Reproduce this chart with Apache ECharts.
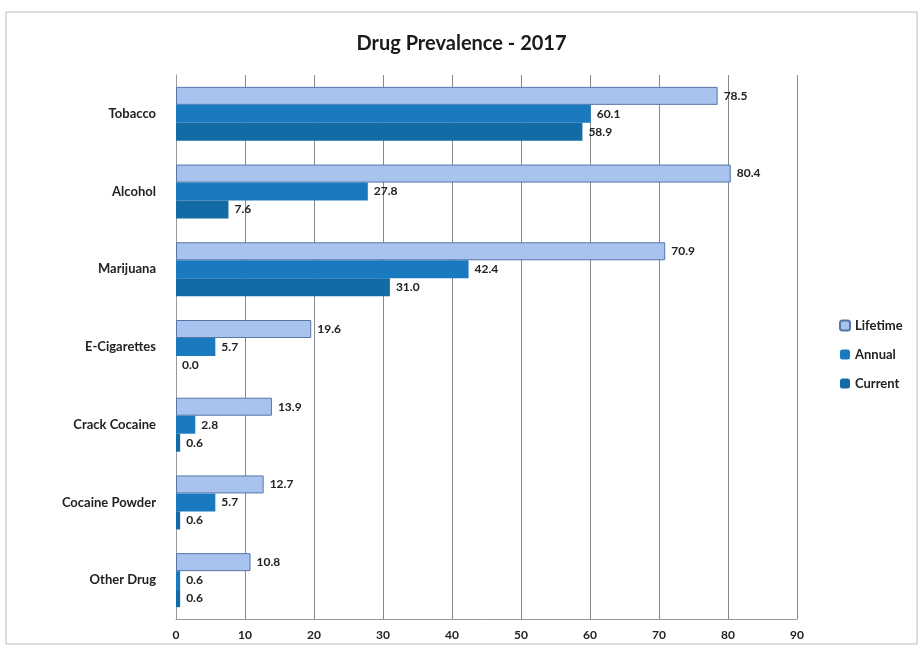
<!DOCTYPE html>
<html>
<head>
<meta charset="utf-8">
<script src="https://cdn.jsdelivr.net/npm/echarts@6/dist/echarts.min.js"></script>
<style>html,body{margin:0;padding:0;background:#fff;}#c{width:923px;height:650px;}</style>
</head>
<body>
<div id="c"></div>
<script>
var categories = ['Tobacco', 'Alcohol', 'Marijuana', 'E-Cigarettes', 'Crack Cocaine', 'Cocaine Powder', 'Other Drug'];
var lifetime = [78.5, 80.4, 70.9, 19.6, 13.9, 12.7, 10.8];
var annual = [60.1, 27.8, 42.4, 5.7, 2.8, 5.7, 0.6];
var current = [58.9, 7.6, 31.0, 0.0, 0.6, 0.6, 0.6];
var xTicks = [0, 10, 20, 30, 40, 50, 60, 70, 80, 90];

var chart = echarts.init(document.getElementById('c'));
var font = 'Lato, "Open Sans", sans-serif';
function lbl() {
  return { show: true, position: 'right', distance: 6, fontFamily: font, fontWeight: 'bold', fontSize: 12, color: '#222',
    formatter: function (p) { return Number(p.value).toFixed(1); } };
}
chart.setOption({
  animation: false,
  textStyle: { fontFamily: font },
  title: { text: 'Drug Prevalence - 2017', left: 'center', top: 29, textStyle: { fontFamily: font, fontSize: 20, fontWeight: 'bold', color: '#1a1a1a' } },
  legend: { orient: 'vertical', left: 834, top: 314, itemWidth: 10, itemHeight: 10, itemGap: 16,
    textStyle: { fontFamily: font, fontWeight: 'bold', fontSize: 13, color: '#222' },
    data: ['Lifetime', 'Annual', 'Current'] },
  graphic: [{ type: 'rect', shape: { x: 6, y: 12, width: 911, height: 632 }, style: { fill: 'none', stroke: '#bbb', lineWidth: 1 }, silent: true }],
  grid: { left: 176, right: 126, top: 75, bottom: 31 },
  xAxis: { type: 'value', min: 0, max: 90, interval: 10,
    axisLine: { show: true, lineStyle: { color: '#999' } },
    axisTick: { show: false },
    splitLine: { show: true, lineStyle: { color: '#888', width: 1 } },
    axisLabel: { fontFamily: font, fontWeight: 'bold', fontSize: 12, color: '#222', margin: 10,
      formatter: function (v) { return xTicks.indexOf(v) >= 0 ? String(v) : ''; } } },
  yAxis: { type: 'category', data: categories, inverse: true,
    axisLine: { show: true, lineStyle: { color: '#999' } },
    axisTick: { show: false },
    axisLabel: { fontFamily: font, fontWeight: 'bold', fontSize: 13, color: '#222', margin: 20 } },
  series: [
    { name: 'Lifetime', type: 'bar', data: lifetime, barWidth: 18, barGap: '0%',
      itemStyle: { color: '#a8c3ee', borderColor: '#5676a8', borderWidth: 1 }, label: lbl() },
    { name: 'Annual', type: 'bar', data: annual, barWidth: 18, barGap: '0%',
      itemStyle: { color: '#1a7abf' }, label: lbl() },
    { name: 'Current', type: 'bar', data: current, barWidth: 18, barGap: '0%',
      itemStyle: { color: '#136ba6' }, label: lbl() }
  ]
});
</script>
</body>
</html>
